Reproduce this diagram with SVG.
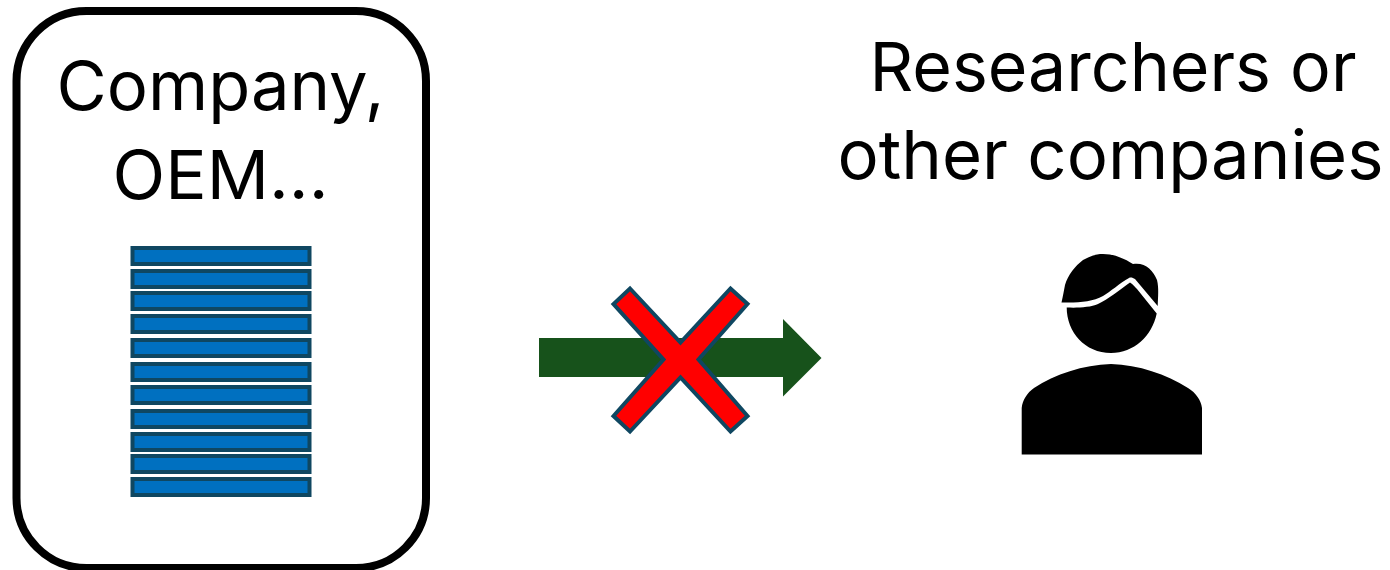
<svg xmlns="http://www.w3.org/2000/svg" width="1390" height="570" viewBox="0 0 1390 570">
<style>
text{font-family:Inter,"Liberation Sans",sans-serif;font-size:68px;fill:#000;text-anchor:middle}
.bar{fill:#0070c0;stroke:#0f4761;stroke-width:4}
</style>
<rect width="1390" height="570" fill="#fff"/>
<g id="company">
<rect x="16.500" y="11" width="409.500" height="557" rx="70" ry="70" fill="#fff" stroke="#000" stroke-width="8"/>
<text x="220.500" y="110" textLength="328" lengthAdjust="spacingAndGlyphs">Company,</text>
<text x="220.500" y="199" textLength="216" lengthAdjust="spacingAndGlyphs">OEM...</text>
</g>
<g id="data-stack">
<rect class="bar" x="132.500" y="248" width="177" height="16"/>
<rect class="bar" x="132.500" y="271" width="177" height="16"/>
<rect class="bar" x="132.500" y="293" width="177" height="16"/>
<rect class="bar" x="132.500" y="316" width="177" height="16"/>
<rect class="bar" x="132.500" y="340" width="177" height="16"/>
<rect class="bar" x="132.500" y="364" width="177" height="16"/>
<rect class="bar" x="132.500" y="387" width="177" height="16"/>
<rect class="bar" x="132.500" y="411" width="177" height="16"/>
<rect class="bar" x="132.500" y="434" width="177" height="16"/>
<rect class="bar" x="132.500" y="456" width="177" height="16"/>
<rect class="bar" x="132.500" y="479" width="177" height="16"/>
</g>
<g id="connectors">
<path d="M539 338H783V319L821.500 358 783 396.500V377H539Z" fill="#17521b"/>
</g>
<g id="cross">
<path d="M630 288.500 680.500 342.500 730.500 288.500 747.500 304 698.500 359.500 747.500 416 730.500 431.500 680.500 377.500 630 431.500 613.500 416 663.500 359.500 613.500 304Z" fill="#f00" stroke="#0f4761" stroke-width="4"/>
</g>
<g id="researchers">
<text x="1113" y="91" textLength="487" lengthAdjust="spacingAndGlyphs">Researchers or</text>
<text x="1110.500" y="179" textLength="546" lengthAdjust="spacingAndGlyphs">other companies</text>
<path d="M1061.500 302.500C1063 296 1064 290 1065 285 1068 275 1075 266 1083 260 1090 256 1096 254 1103 254 1115 254 1125 259 1133 264 1145 262 1153 270 1157 280 1159 288 1158 297 1157.700 306L1135 279C1133 278 1131 277 1129 278 1120 283 1110 292 1103 296 1092 302 1078 303 1061.500 302.500Z" fill="#000"/>
<path d="M1066.700 307.500C1077 308 1090 307.500 1098 304 1108 299.500 1120 289.500 1130 282.500 1133 284.500 1135 287 1137 289L1156.700 313.500C1152 336 1134 353 1111 353 1085 353 1066.700 332 1066.700 307.500Z" fill="#000"/>
<path d="M1021.700 454.500V408C1022.500 400 1027 393 1034 388 1055 374 1083 365 1111 364 1139 365 1166 374 1188 388 1196 393 1201 400 1202 408V454.500Z" fill="#000"/>
</g>
</svg>
